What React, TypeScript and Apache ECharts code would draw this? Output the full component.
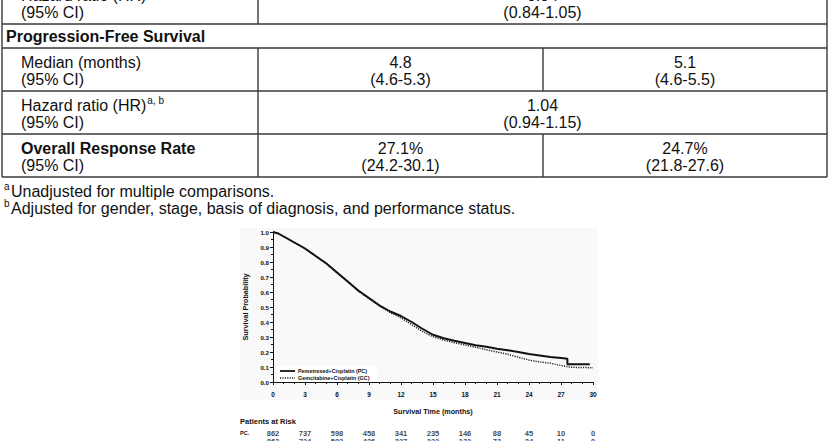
import React, { useEffect, useRef } from "react";
import * as echarts from "echarts";

// Kaplan-Meier overall survival
const pcTimes = [0, 0.5, 1, 2, 3, 4, 5, 6, 7, 8, 9, 10, 11, 12, 13, 14, 15, 16, 17, 18, 19, 20, 21, 22, 23, 24, 25, 26, 27, 27.6, 27.6, 29.7];
const pcSurv = [1.0, 0.99, 0.97, 0.93, 0.89, 0.84, 0.79, 0.73, 0.67, 0.61, 0.56, 0.51, 0.47, 0.44, 0.4, 0.355, 0.315, 0.292, 0.275, 0.26, 0.245, 0.235, 0.222, 0.212, 0.2, 0.187, 0.177, 0.167, 0.16, 0.155, 0.118, 0.118];
const gcTimes = [0, 0.5, 1, 2, 3, 4, 5, 6, 7, 8, 9, 10, 11, 12, 13, 14, 15, 16, 17, 18, 19, 20, 21, 22, 23, 24, 25, 26, 27, 28, 30];
const gcSurv = [1.0, 0.99, 0.97, 0.93, 0.89, 0.84, 0.79, 0.73, 0.67, 0.605, 0.555, 0.505, 0.463, 0.428, 0.383, 0.338, 0.302, 0.28, 0.262, 0.248, 0.232, 0.215, 0.2, 0.185, 0.165, 0.146, 0.134, 0.125, 0.11, 0.098, 0.095];

// Patients at risk
const riskTimes = [0, 3, 6, 9, 12, 15, 18, 21, 24, 27, 30];
const pcRisk = [862, 737, 598, 458, 341, 235, 146, 88, 45, 10, 0];
const gcRisk = [863, 724, 593, 436, 327, 222, 132, 73, 34, 11, 0];

// Table texts
const colHeaders = ["Pemetrexed+Cisplatin (PC)", "Gemcitabine+Cisplatin (GC)"];
const pfsMedian = ["4.8", "5.1"];
const pfsMedianCI = ["(4.6-5.3)", "(4.6-5.5)"];
const pfsHR = "1.04";
const pfsHRCI = "(0.94-1.15)";
const osHR = "0.94";
const osHRCI = "(0.84-1.05)";
const orr = ["27.1%", "24.7%"];
const orrCI = ["(24.2-30.1)", "(21.8-27.6)"];
const footnotes = [
  ["a", "Unadjusted for multiple comparisons."],
  ["b", "Adjusted for gender, stage, basis of diagnosis, and performance status."],
];

const FF = '"Liberation Sans", Arial, Helvetica, sans-serif';

function measure(text: string, font: string): number {
  const c = document.createElement("canvas").getContext("2d");
  if (!c) return text.length * 8;
  c.font = font;
  return c.measureText(text).width;
}

export default function App() {
  const ref = useRef<HTMLDivElement>(null);
  useEffect(() => {
    document.body.style.margin = "0";
    if (!ref.current) return;
    const chart = echarts.init(ref.current, undefined, { renderer: "svg" });

    const L = 2, D1 = 258, D2 = 543, R = 827;
    const lineC = "#3a3a3a";
    const txtC = "#111";
    const f16 = `16px ${FF}`;
    const f16b = `bold 16px ${FF}`;
    const f10 = `10px ${FF}`;
    const g: any[] = [];
    const hl = (y: number, x1 = L, x2 = R) =>
      g.push({ type: "line", shape: { x1, y1: y, x2, y2: y }, style: { stroke: lineC, lineWidth: 1.4 } });
    const vl = (x: number, y1: number, y2: number) =>
      g.push({ type: "line", shape: { x1: x, y1, x2: x, y2 }, style: { stroke: lineC, lineWidth: 1.4 } });
    const tx = (text: string, x: number, y: number, font: string, align = "left") =>
      g.push({
        type: "text",
        style: { text, x, y, font, fill: txtC, align, textAlign: align, verticalAlign: "middle", textVerticalAlign: "middle" },
      });
    const sup = (base: string, baseFont: string, x: number, y: number, s: string) => {
      tx(base, x, y, baseFont);
      tx(s, x + measure(base, baseFont) + 1, y - 5, f10);
    };

    // horizontal rules
    [24, 48, 91, 134, 177].forEach((y) => hl(y));
    // vertical rules
    vl(L, -20, 177);
    vl(R, -20, 177);
    vl(D1, -20, 24);
    vl(D1, 48, 177);
    vl(D2, 48, 91);
    vl(D2, 134, 177);

    const cMid = (D1 + R) / 2;
    const c2 = (D1 + D2) / 2;
    const c3 = (D2 + R) / 2;
    const IND = 21;
    // row 0 (overall survival HR, cut at top)
    sup("Hazard ratio (HR)", f16, IND, -5, "a");
    tx(osHR, cMid, -5, f16, "center");
    tx("(95% CI)", IND, 12, f16);
    tx(osHRCI, cMid, 12, f16, "center");
    // PFS header
    tx("Progression-Free Survival", 6, 36, f16b);
    // Median
    tx("Median (months)", IND, 62, f16);
    tx("(95% CI)", IND, 79, f16);
    tx(pfsMedian[0], c2, 62, f16, "center");
    tx(pfsMedianCI[0], c2, 79, f16, "center");
    tx(pfsMedian[1], c3, 62, f16, "center");
    tx(pfsMedianCI[1], c3, 79, f16, "center");
    // HR
    sup("Hazard ratio (HR)", f16, IND, 105, "a, b");
    tx("(95% CI)", IND, 122, f16);
    tx(pfsHR, cMid, 105, f16, "center");
    tx(pfsHRCI, cMid, 122, f16, "center");
    // ORR
    tx("Overall Response Rate", IND, 148, f16b);
    tx("(95% CI)", IND, 165, f16);
    tx(orr[0], c2, 148, f16, "center");
    tx(orrCI[0], c2, 165, f16, "center");
    tx(orr[1], c3, 148, f16, "center");
    tx(orrCI[1], c3, 165, f16, "center");
    // footnotes
    footnotes.forEach(([s, t], i) => {
      const y = 191 + i * 17;
      tx(s, 4, y - 5, f10);
      tx(t, 11, y, f16);
    });

    // chart decorations
    g.push({ type: "rect", z: -10, shape: { x: 240, y: 228, width: 358, height: 172 }, style: { fill: "#f9f9f9" } });
    g.push({ type: "rect", z: 1, shape: { x: 277, y: 366, width: 100, height: 16 }, style: { fill: "#ffffff" } });
    const fl = `bold 5.4px ${FF}`;
    g.push({ type: "line", z: 3, shape: { x1: 280, y1: 371, x2: 295, y2: 371 }, style: { stroke: "#111", lineWidth: 1.8 } });
    g.push({ type: "line", z: 3, shape: { x1: 280, y1: 378, x2: 295, y2: 378 }, style: { stroke: "#222", lineWidth: 1.4, lineDash: [1.2, 1.2] } });
    g.push({ type: "text", z: 3, style: { text: colHeaders[0], x: 298, y: 371, font: fl, fill: "#111", verticalAlign: "middle", textVerticalAlign: "middle" } });
    g.push({ type: "text", z: 3, style: { text: colHeaders[1], x: 298, y: 378, font: fl, fill: "#111", verticalAlign: "middle", textVerticalAlign: "middle" } });
    g.push({ type: "text", style: { text: "Patients at Risk", x: 240, y: 421, font: `bold 7.5px ${FF}`, fill: "#111", verticalAlign: "middle", textVerticalAlign: "middle" } });
    g.push({ type: "text", style: { text: "PC.", x: 240, y: 433, font: `bold 5.5px ${FF}`, fill: "#111", verticalAlign: "middle", textVerticalAlign: "middle" } });
    g.push({ type: "text", style: { text: "GC.", x: 240, y: 444, font: `bold 5.5px ${FF}`, fill: "#111", verticalAlign: "middle", textVerticalAlign: "middle" } });

    const axisText = { fontFamily: FF, fontWeight: "bold" as const, color: "#111" };

    chart.setOption({
      animation: false,
      backgroundColor: "#ffffff",
      grid: [
        { left: 273, top: 232, width: 320, height: 150 },
        { left: 273, top: 433, width: 320, height: 11 },
      ],
      xAxis: [
        {
          gridIndex: 0,
          type: "value",
          min: 0,
          max: 30,
          interval: 3,
          offset: 3,
          axisLine: { show: true, lineStyle: { color: "#111", width: 1 } },
          axisTick: { show: true, length: 3, lineStyle: { color: "#111" } },
          minorTick: { show: true, splitNumber: 3, length: 2, lineStyle: { color: "#111" } },
          splitLine: { show: false },
          axisLabel: { ...axisText, fontSize: 6.5, margin: 6 },
          name: "Survival Time (months)",
          nameLocation: "middle",
          nameGap: 23,
          nameTextStyle: { ...axisText, fontSize: 7.2 },
        },
        { gridIndex: 1, type: "value", min: 0, max: 30, show: false },
      ],
      yAxis: [
        {
          gridIndex: 0,
          type: "value",
          min: 0,
          max: 1,
          interval: 0.1,
          axisLine: { show: true, lineStyle: { color: "#111", width: 1 } },
          axisTick: { show: true, length: 3, lineStyle: { color: "#111" } },
          minorTick: { show: true, splitNumber: 2, length: 2, lineStyle: { color: "#111" } },
          splitLine: { show: false },
          axisLabel: { ...axisText, fontSize: 6.2, margin: 4, formatter: (v: number) => v.toFixed(1) },
          name: "Survival Probability",
          nameLocation: "middle",
          nameGap: 24,
          nameTextStyle: { ...axisText, fontSize: 7.2 },
        },
        { gridIndex: 1, type: "value", min: 0, max: 1, show: false },
      ],
      series: [
        {
          type: "line",
          name: colHeaders[0],
          xAxisIndex: 0,
          yAxisIndex: 0,
          data: pcTimes.map((t, i) => [t, pcSurv[i]]),
          showSymbol: false,
          z: 4,
          lineStyle: { color: "#111", width: 2 },
        },
        {
          type: "line",
          name: colHeaders[1],
          xAxisIndex: 0,
          yAxisIndex: 0,
          data: gcTimes.map((t, i) => [t, gcSurv[i]]),
          showSymbol: false,
          z: 3,
          lineStyle: { color: "#222", width: 1.5, type: [1.2, 1.2] },
        },
        {
          type: "scatter",
          xAxisIndex: 1,
          yAxisIndex: 1,
          symbolSize: 0,
          data: riskTimes.map((t, i) => [t, 1, pcRisk[i]]),
          label: { show: true, position: "inside", ...axisText, fontSize: 7.5, formatter: (p: any) => String(p.value[2]) },
        },
        {
          type: "scatter",
          xAxisIndex: 1,
          yAxisIndex: 1,
          symbolSize: 0,
          data: riskTimes.map((t, i) => [t, 0, gcRisk[i]]),
          label: { show: true, position: "inside", ...axisText, fontSize: 7.5, formatter: (p: any) => String(p.value[2]) },
        },
      ],
      graphic: g,
    });
    return () => chart.dispose();
  }, []);
  return <div ref={ref} style={{ width: 828, height: 441 }} />;
}
